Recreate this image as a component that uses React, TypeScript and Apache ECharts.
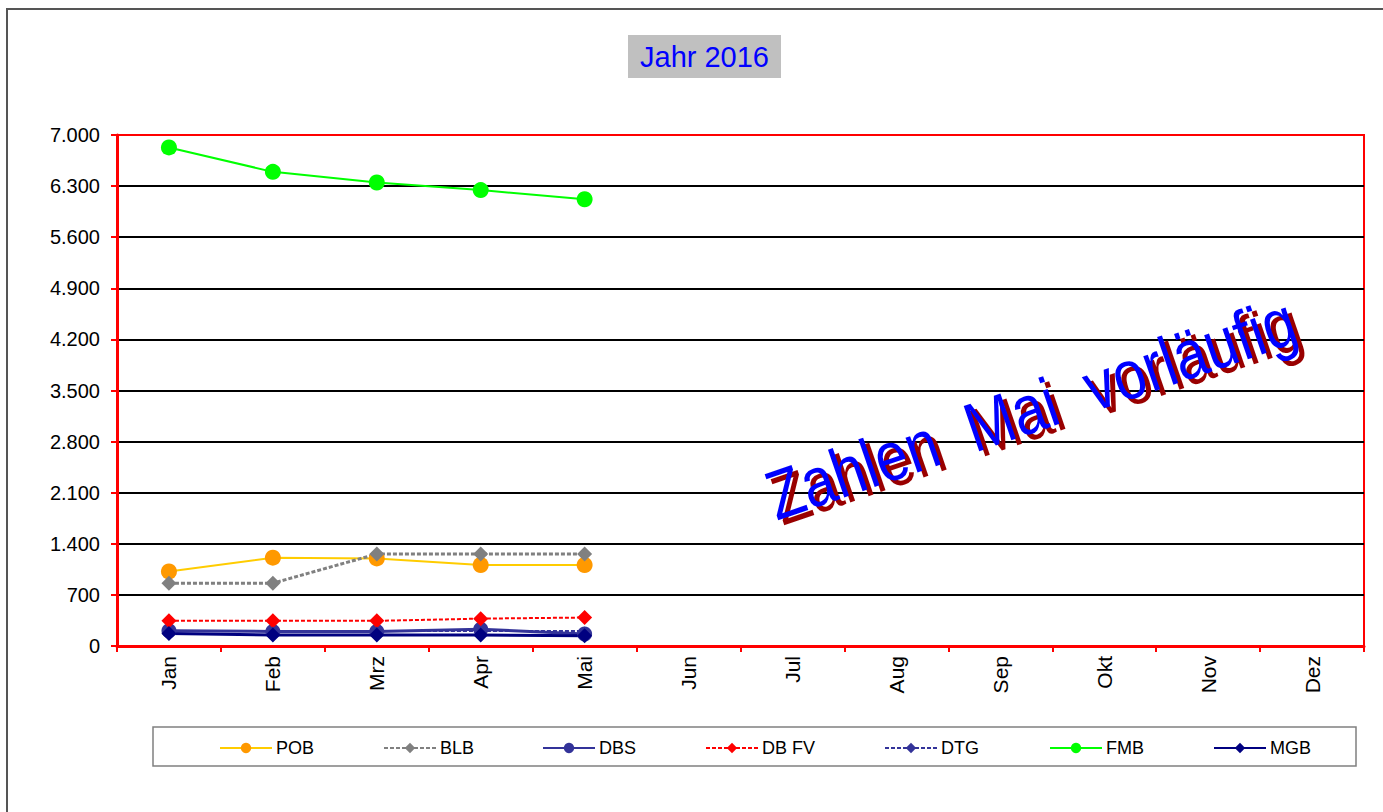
import React, { useEffect, useRef } from "react";
import * as echarts from "echarts";

const months = ["Jan", "Feb", "Mrz", "Apr", "Mai", "Jun", "Jul", "Aug", "Sep", "Okt", "Nov", "Dez"];
const yTicks = [0, 700, 1400, 2100, 2800, 3500, 4200, 4900, 5600, 6300, 7000];

const POB = [1020, 1210, 1200, 1110, 1110];
const BLB = [860, 860, 1260, 1260, 1260];
const DBS = [210, 200, 200, 230, 165];
const DBFV = [345, 345, 345, 375, 390];
const DTG = [205, 205, 205, 205, 205];
const FMB = [6830, 6495, 6350, 6245, 6120];
const MGB = [170, 150, 150, 150, 140];

const FONT = 'Arial, "Liberation Sans", sans-serif';
const WATERMARK = "Zahlen  Mai  vorläufig";

export default function App() {
  const ref = useRef<HTMLDivElement>(null);
  useEffect(() => {
    if (!ref.current) return;
    const chart = echarts.init(ref.current, undefined, { renderer: "svg" });

    const mk = (name: string, data: number[], o: any) => ({
      name,
      type: "line",
      data,
      symbol: o.symbol,
      symbolSize: o.size,
      z: o.z ?? 3,
      lineStyle: { color: o.line, width: o.width ?? 2, type: o.dash ?? "solid" },
      itemStyle: { color: o.marker },
    });

    const series = [
      mk("POB", POB, { symbol: "circle", size: 16, line: "#FFCC00", marker: "#FF9900" }),
      mk("BLB", BLB, { symbol: "diamond", size: 15, line: "#808080", marker: "#808080", dash: [4, 2], width: 3 }),
      mk("DBS", DBS, { symbol: "circle", size: 15, line: "#333399", marker: "#333399", width: 3 }),
      mk("DB FV", DBFV, { symbol: "diamond", size: 15, line: "#FF0000", marker: "#FF0000", dash: [4, 2] }),
      mk("DTG", DTG, { symbol: "diamond", size: 9, line: "#333399", marker: "#333399", dash: [4, 2] }),
      mk("FMB", FMB, { symbol: "circle", size: 16, line: "#00FF00", marker: "#00FF00" }),
      mk("MGB", MGB, { symbol: "diamond", size: 15, line: "#000080", marker: "#000080", width: 3 }),
    ];

    const legendX = [219, 383, 542, 705, 884, 1049, 1213];
    const legends = series.map((s, i) => ({
      data: [s.name],
      left: legendX[i],
      top: 739,
      itemWidth: 52,
      itemHeight: 13,
      itemGap: 4,
      padding: 0,
      textStyle: { fontFamily: FONT, fontSize: 18, color: "#000", padding: [0, 0, 0, -1] },
    }));

    const gridColors = yTicks.map((v, i) => (i === yTicks.length - 1 ? "#FF0000" : "#000000"));

    chart.setOption({
      animation: false,
      backgroundColor: "#FFFFFF",
      legend: legends,
      grid: {
        left: 117,
        top: 135,
        right: 19,
        bottom: 166,
        show: true,
        borderColor: "#FF0000",
        borderWidth: 2,
        containLabel: false,
      },
      xAxis: {
        type: "category",
        data: months,
        boundaryGap: true,
        axisLine: { lineStyle: { color: "#FF0000", width: 3 } },
        axisTick: { show: true, inside: false, length: 6, lineStyle: { color: "#FF0000", width: 2 } },
        axisLabel: {
          rotate: 90,
          margin: 10,
          color: "#000",
          fontFamily: FONT,
          fontSize: 21,
          interval: 0,
        },
        splitLine: { show: false },
      },
      yAxis: {
        type: "value",
        min: 0,
        max: 7000,
        interval: 700,
        axisLine: { show: true, lineStyle: { color: "#FF0000", width: 3 } },
        axisTick: { show: true, inside: false, length: 6, lineStyle: { color: "#FF0000", width: 2 } },
        axisLabel: {
          margin: 17,
          color: "#000",
          fontFamily: FONT,
          fontSize: 20,
          formatter: (v: number) => v.toLocaleString("de-DE"),
        },
        splitLine: { show: true, lineStyle: { color: gridColors, width: 2 } },
      },
      series,
      graphic: [
        {
          type: "rect",
          shape: { x: 7, y: 9, width: 1400, height: 820 },
          style: { fill: "none", stroke: "#555555", lineWidth: 2 },
          silent: true,
          z: -10,
        },
        {
          type: "rect",
          shape: { x: 628, y: 35, width: 153, height: 43 },
          style: { fill: "#C0C0C0" },
        },
        {
          type: "text",
          x: 704.5,
          y: 57,
          style: {
            text: "Jahr 2016",
            fill: "#0000FF",
            font: `29px ${FONT}`,
            align: "center",
            verticalAlign: "middle",
          },
        },
        {
          type: "rect",
          shape: { x: 153, y: 727, width: 1203, height: 39 },
          style: { fill: "none", stroke: "#808080", lineWidth: 1.5 },
          z: -5,
        },
        {
          type: "text",
          x: 786,
          y: 536,
          rotation: 0.33,
          scaleY: 1.2,
          z: 20,
          style: {
            text: WATERMARK,
            fill: "#990000",
            font: `58px ${FONT}`,
            align: "left",
            verticalAlign: "bottom",
          },
        },
        {
          type: "text",
          x: 780,
          y: 531,
          rotation: 0.33,
          scaleY: 1.2,
          z: 21,
          style: {
            text: WATERMARK,
            fill: "#0000FF",
            font: `58px ${FONT}`,
            align: "left",
            verticalAlign: "bottom",
          },
        },
      ],
    });
    return () => chart.dispose();
  }, []);

  return (
    <div
      ref={ref}
      style={{ position: "fixed", left: 0, top: 0, width: 1383, height: 812, background: "#fff" }}
    />
  );
}
